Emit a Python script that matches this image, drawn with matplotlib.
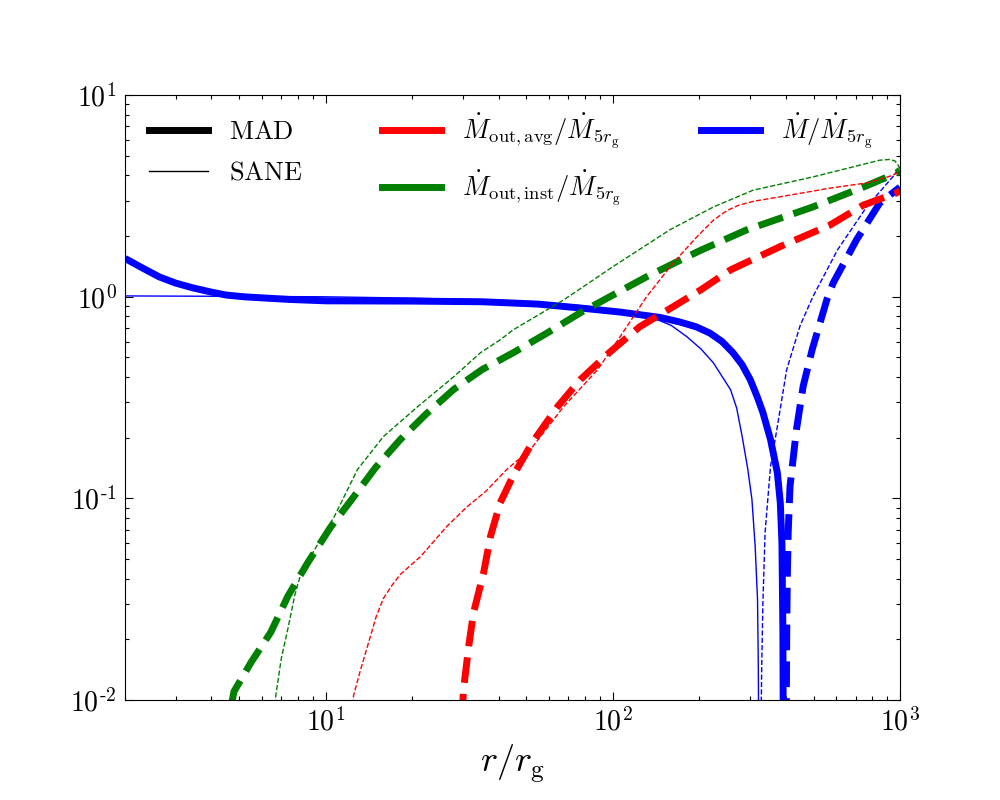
import numpy as np
import matplotlib
matplotlib.use("Agg")
import matplotlib.pyplot as plt
from matplotlib.lines import Line2D

plt.rcParams['mathtext.fontset'] = 'cm'
plt.rcParams['font.family'] = 'serif'
plt.rcParams['font.serif'] = ['cmr10', 'DejaVu Serif']
plt.rcParams['axes.unicode_minus'] = False

# ---- data (r / r_g , ratio) ----
# MAD  Mdot/Mdot_5rg  (positive part, solid)
r_mad_in = [2.0, 2.3, 2.63, 3.0, 3.44, 4.0, 4.5, 5.2, 5.85, 7.5, 10, 20, 35, 55, 77, 106, 146, 171, 195, 218, 240, 262, 282, 301, 318, 333, 354, 374, 383, 388, 391, 392.5]
m_mad_in = [1.55, 1.39, 1.256, 1.17, 1.108, 1.055, 1.02, 1.0, 0.99, 0.97, 0.955, 0.952, 0.945, 0.92, 0.88, 0.84, 0.79, 0.75, 0.71, 0.66, 0.6, 0.528, 0.46, 0.388, 0.32, 0.267, 0.196, 0.134, 0.095, 0.06, 0.0217, 0.005]
# MAD  -Mdot/Mdot_5rg (negative part, dashed)
r_mad_out = [401, 403, 405, 408, 414, 436, 460, 495, 556, 585, 706, 850, 1000]
m_mad_out = [0.005, 0.02, 0.04, 0.068, 0.115, 0.22, 0.36, 0.55, 0.966, 1.17, 1.92, 2.92, 3.5]
# SANE Mdot/Mdot_5rg (positive part, solid)
r_sane_in = [2.0, 5, 10, 20, 40, 60, 80, 100, 138, 160, 181, 203, 224, 257, 270, 282, 295, 305, 313, 319, 321, 322.5]
m_sane_in = [1.01, 1.005, 1.0, 0.985, 0.96, 0.93, 0.9, 0.86, 0.787, 0.72, 0.634, 0.55, 0.47, 0.346, 0.28, 0.203, 0.14, 0.099, 0.058, 0.0316, 0.015, 0.005]
# SANE -Mdot/Mdot_5rg (negative part, dashed)
r_sane_out = [327, 330, 333, 339, 354, 374, 403, 449, 497, 606, 765, 943, 1000]
m_sane_out = [0.005, 0.015, 0.03, 0.068, 0.144, 0.227, 0.435, 0.72, 1.0, 1.71, 2.79, 3.93, 4.4]

# MAD Mout,inst
r_mad_inst = [4.7, 4.79, 5.5, 6.44, 7.38, 8.66, 10.4, 12.4, 14.9, 18.2, 22.3, 27.9, 35, 45, 59.2, 77, 100, 131, 167, 202, 293, 497, 745, 970, 1000]
m_mad_inst = [0.0095, 0.011, 0.0154, 0.0217, 0.0327, 0.048, 0.072, 0.1, 0.142, 0.196, 0.261, 0.347, 0.435, 0.528, 0.663, 0.833, 1.02, 1.256, 1.49, 1.7, 2.15, 2.79, 3.5, 4.1, 4.25]
# SANE Mout,inst
r_sane_inst = [6.65, 6.7, 7.0, 7.38, 7.8, 8.18, 9.1, 10.7, 12.9, 15.9, 20.9, 27.9, 34.6, 40.6, 45, 67.5, 100, 158, 224, 308, 497, 850, 921, 960, 985, 1000]
m_sane_inst = [0.008, 0.0105, 0.016, 0.0225, 0.033, 0.042, 0.055, 0.081, 0.139, 0.203, 0.285, 0.401, 0.528, 0.613, 0.686, 0.966, 1.41, 2.15, 2.79, 3.38, 3.93, 4.76, 4.8, 4.72, 4.5, 4.3]
# MAD Mout,avg
r_mad_avg = [29.8, 30.2, 31.5, 32.7, 35.5, 37.5, 40.5, 45, 52.5, 64.3, 77, 98, 124, 162, 202, 257, 381, 571, 745, 970, 1000]
m_mad_avg = [0.008, 0.0113, 0.0186, 0.027, 0.043, 0.065, 0.095, 0.13, 0.19, 0.286, 0.388, 0.534, 0.71, 0.892, 1.08, 1.36, 1.77, 2.27, 2.85, 3.27, 3.35]
# SANE Mout,avg
r_sane_avg = [12.4, 12.5, 13.2, 14.0, 15.0, 15.9, 17.0, 18.2, 21.4, 26.5, 31.1, 36, 42.9, 51.7, 67.5, 88.5, 106, 131, 162, 196, 224, 250, 275, 310, 381, 571, 765, 943, 1000]
m_sane_avg = [0.008, 0.0105, 0.014, 0.0186, 0.026, 0.032, 0.037, 0.042, 0.0515, 0.073, 0.091, 0.108, 0.14, 0.175, 0.286, 0.435, 0.634, 1.0, 1.47, 1.98, 2.4, 2.68, 2.85, 2.98, 3.13, 3.46, 3.67, 4.0, 4.2]

xticks = [10, 100, 1000]
xticklabels = ['$10^{1}$', '$10^{2}$', '$10^{3}$']
yticks = [0.01, 0.1, 1, 10]
yticklabels = [r'$10^{\text{-}2}$', r'$10^{\text{-}1}$', '$10^{0}$', '$10^{1}$']

thick = 5
thin = 1

fig = plt.figure(figsize=(10, 8), dpi=100)
ax = fig.add_axes([0.125, 0.125, 0.775, 0.756])

ax.plot(r_mad_in, m_mad_in, color='blue', lw=thick, solid_capstyle='butt')
ax.plot(r_mad_out, m_mad_out, color='blue', lw=thick, ls='--')
ax.plot(r_sane_in, m_sane_in, color='blue', lw=thin)
ax.plot(r_sane_out, m_sane_out, color='blue', lw=thin, ls='--')
ax.plot(r_mad_inst, m_mad_inst, color='green', lw=thick, ls='--')
ax.plot(r_sane_inst, m_sane_inst, color='green', lw=thin, ls='--')
ax.plot(r_mad_avg, m_mad_avg, color='red', lw=thick, ls='--')
ax.plot(r_sane_avg, m_sane_avg, color='red', lw=thin, ls='--')

ax.set_xscale('log')
ax.set_yscale('log')
ax.set_xlim(2, 1000)
ax.set_ylim(0.01, 10)

ax.set_xticks(xticks)
ax.set_xticklabels(xticklabels)
ax.set_yticks(yticks)
ax.set_yticklabels(yticklabels)
ax.tick_params(which='both', direction='in', top=True, right=True)
ax.tick_params(which='major', length=6, width=0.8, labelsize=20, pad=6)
ax.tick_params(which='minor', length=3, width=0.8)

ax.set_xlabel(r'$r/r_{\rm g}$', fontsize=26)

handles = [
    Line2D([], [], color='black', lw=thick),
    Line2D([], [], color='black', lw=thin),
    Line2D([], [], color='red', lw=thick),
    Line2D([], [], color='green', lw=thick),
    Line2D([], [], color='blue', lw=thick),
]
labels = [r'$\mathrm{MAD}$', r'$\mathrm{SANE}$',
          r'$\dot{M}_{\rm out,avg}/\dot{M}_{5r_{\rm g}}$',
          r'$\dot{M}_{\rm out,inst}/\dot{M}_{5r_{\rm g}}$',
          r'$\dot{M}/\dot{M}_{5r_{\rm g}}$']
ax.legend(handles, labels, ncol=3, frameon=False, fontsize=19, loc='upper left',
          handlelength=2.25, handletextpad=0.8, columnspacing=3.0, labelspacing=0.65,
          bbox_to_anchor=(0.0, 1.013))

fig.savefig('out.png', dpi=100)
